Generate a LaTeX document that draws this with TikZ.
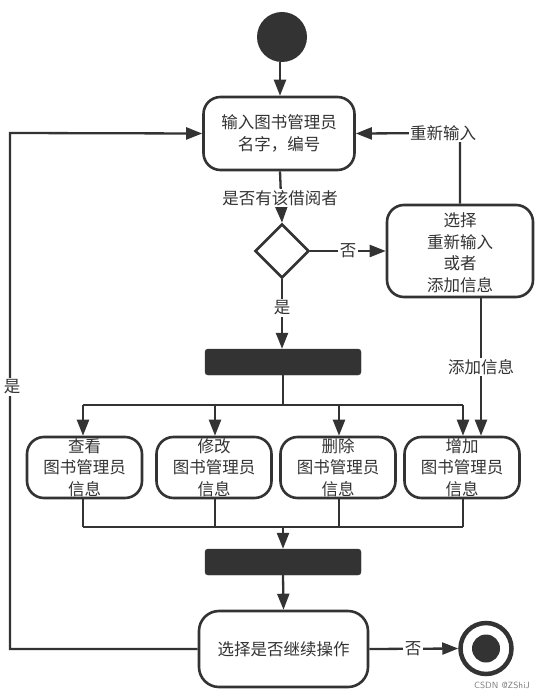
\documentclass[tikz,border=0pt]{standalone}
\usepackage{fontspec}
\setmainfont{Noto Sans CJK SC}
\usetikzlibrary{arrows.meta,shapes.geometric}
\definecolor{dk}{HTML}{333333}
\tikzset{
  txt/.style={font=\fontsize{16.5}{21.5}\selectfont, text=dk, align=center},
  actbox/.style={draw=dk, line width=2.6pt, rounded corners=17pt, fill=white, inner sep=0pt},
  bar/.style={fill=dk, draw=dk, rounded corners=3pt, inner sep=0pt},
  conn/.style={draw=dk, line width=2.3pt},
  arr/.style={conn, -{Triangle[length=16pt,width=12pt]}},
  lbl/.style={txt, fill=white, inner sep=1.5pt},
}
\begin{document}
\begin{tikzpicture}[x=1pt,y=-1pt]
\fill[white] (0,0) rectangle (543,695);
\useasboundingbox (0,0) rectangle (543,695);

% nodes
\node[circle, fill=dk, minimum size=50pt, inner sep=0pt] (start) at (282,37) {};
\node[actbox, minimum width=151pt, minimum height=73pt] (in) at (279,133.5) {};
\node[txt] (intxt) at (in) {输入图书管理员\\名字，编号};
\node[diamond, draw=dk, line width=2.6pt, fill=white, minimum width=54pt, minimum height=54pt, inner sep=0pt, aspect=1] (dec) at (282,251) {};
\node[actbox, minimum width=146pt, minimum height=92pt] (sel) at (460,251) {};
\node[txt] (seltxt) at (460,253) {选择\\重新输入\\或者\\添加信息};
\node[bar, minimum width=156pt, minimum height=26pt] (fork) at (283,362) {};
\node[actbox, minimum width=115pt, minimum height=61pt] (b1) at (84.5,467.5) {};
\node[actbox, minimum width=115pt, minimum height=61pt] (b2) at (214,467.5) {};
\node[actbox, minimum width=115pt, minimum height=61pt] (b3) at (338,467.5) {};
\node[actbox, minimum width=115pt, minimum height=61pt] (b4) at (462,467.5) {};
\node[txt] (t1) at (b1) {查看\\图书管理员\\信息};
\node[txt] (t2) at (b2) {修改\\图书管理员\\信息};
\node[txt] (t3) at (b3) {删除\\图书管理员\\信息};
\node[txt] (t4) at (b4) {增加\\图书管理员\\信息};
\node[bar, minimum width=156pt, minimum height=26pt] (join) at (283,562) {};
\node[actbox, minimum width=169pt, minimum height=76pt, rounded corners=20pt] (cont) at (283.5,649) {};
\node[txt] (conttxt) at (cont) {选择是否继续操作};
\node[circle, draw=dk, line width=4.5pt, fill=white, minimum size=51pt, inner sep=0pt] (end) at (486,648.5) {};
\node[circle, fill=dk, minimum size=28pt, inner sep=0pt] (endin) at (end) {};

% coordinates
\coordinate (fk) at (283,405);
\coordinate (fl) at (83,405);
\coordinate (fr) at (463,405);
\coordinate (jn) at (283,527);
\coordinate (jl) at (83,527);
\coordinate (jr) at (463,527);
\coordinate (lc) at (10,649);
\coordinate (rc) at (460,133);

% connectors
\draw[arr] (start.south -| 280,0) -- (280,0 |- in.north);
\draw[arr] (280,0 |- in.south) -- (dec.north);
\node[lbl] (q) at (280,198) {是否有该借阅者};
\draw[arr] (dec.east) -- (sel.west);
\node[lbl] (no1) at (348,251) {否};
\draw[arr] (dec.south) -- (dec.south |- fork.north);
\node[lbl] (yes1) at (282,308) {是};
\draw[arr] (sel.north) -- (rc) -- (in.east);
\node[lbl] (re) at (443,133) {重新输入};
\draw[arr] (481,0 |- sel.south) -- (481,0 |- b4.north);
\node[lbl] (add) at (481,367) {添加信息};

\draw[conn] (fork.south) -- (fk);
\draw[conn] (fl) -- (fr);
\draw[arr] (fl) -- (fl |- b1.north);
\draw[arr] (215,405) -- (215,0 |- b2.north);
\draw[arr] (339,405) -- (339,0 |- b3.north);
\draw[arr] (fr) -- (fr |- b4.north);

\draw[conn] (83,0 |- b1.south) -- (jl);
\draw[conn] (215,0 |- b2.south) -- (215,527);
\draw[conn] (339,0 |- b3.south) -- (339,527);
\draw[conn] (463,0 |- b4.south) -- (jr);
\draw[conn] (jl) -- (jr);
\draw[arr] (jn) -- (join.north);
\draw[arr] (join.south) -- (cont.north);

\draw[arr] (cont.west) -- (lc) -- (10,133) -- (in.west);
\node[lbl] (yes2) at (12,387) {是};
\draw[arr] (cont.east) -- (end.west);
\node[lbl] (no2) at (413,649) {否};

\node[font=\sffamily\fontsize{9}{10}\selectfont, text=gray] (wm) at (502,685) {CSDN @ZShiJ};
\end{tikzpicture}
\end{document}
